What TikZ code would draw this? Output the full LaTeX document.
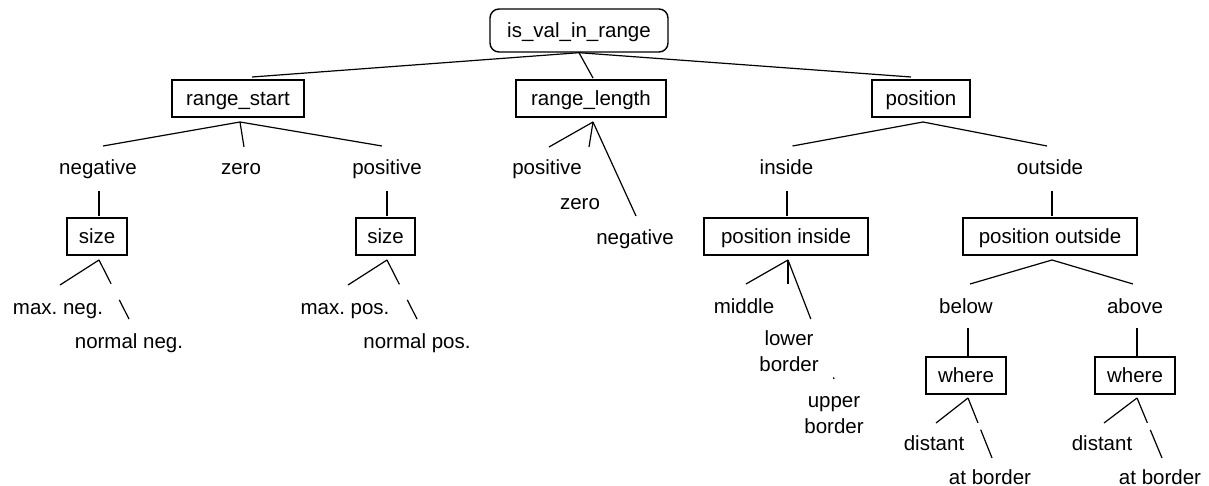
\documentclass[tikz,border=0pt]{standalone}
\usepackage{fontspec}
\setmainfont{Liberation Sans}
\frenchspacing
% point of a node, moved by (dx,dy) in picture units
\newcommand{\offs}[3]{([shift={(#2,#3)}]#1.center)}
\begin{document}
\begin{tikzpicture}[
  x=1pt, y=-1pt,
  every node/.style={font=\fontsize{20.5}{26}\selectfont\frenchspacing, inner sep=0pt},
  lbl/.style={text height=16pt, text depth=2pt},
  twoline/.style={align=center},
  box/.style={lbl, draw, rectangle, line width=1.4pt, minimum height=37pt},
  rootbox/.style={lbl, draw, rectangle, rounded corners=9pt, line width=1.4pt,
                  minimum width=178pt, minimum height=43pt},
  link/.style={line width=1.2pt},
  gapped/.style 2 args={link, dash pattern=on #1 off #2 on 300pt off 1pt},
]
\fill[white] (0,0) rectangle (1209,486);
\useasboundingbox (0,0) rectangle (1209,486);

% ---- nodes ----
\node[rootbox] (root) at (579,30.5) {is\_val\_in\_range};

\node[box, minimum width=132pt] (rs)  at (238,98.5) {range\_start};
\node[box, minimum width=150pt] (rl)  at (591,98.5) {range\_length};
\node[box, minimum width=98pt]  (pos) at (921,98.5) {position};

\node[lbl] (neg1)  at (98,168)  {negative};
\node[lbl] (zero1) at (241,168) {zero};
\node[lbl] (posv1) at (387,168) {positive};

\node[box, minimum width=60pt] (size1) at (97,236.5)  {size};
\node[box, minimum width=59pt] (size2) at (385.5,236.5) {size};

\node[lbl] (maxneg)  at (58,307)  {max. neg.};
\node[lbl] (normneg) at (129,341) {normal neg.};
\node[lbl] (maxpos)  at (345,307) {max. pos.};
\node[lbl] (normpos) at (417,341) {normal pos.};

\node[lbl] (rlpos)  at (547,168) {positive};
\node[lbl] (rlzero) at (580,203) {zero};
\node[lbl] (rlneg)  at (635,237) {negative};

\node[lbl] (inside)  at (786.5,168) {inside};
\node[lbl] (outside) at (1050,168)  {outside};

\node[box, minimum width=164pt] (pin)  at (786,236.5)  {position inside};
\node[box, minimum width=174pt] (pout) at (1050,236.5) {position outside};

\node[lbl] (middle) at (744,306) {middle};
\node[twoline] (lowerb) at (789,353) {\strut lower\\\strut border};
\node[twoline] (upperb) at (834,415) {\strut upper\\\strut border};

\node[lbl] (below) at (966,306)  {below};
\node[lbl] (above) at (1135,306) {above};

\node[box, minimum width=80pt] (where1) at (966,375.5)  {where};
\node[box, minimum width=80pt] (where2) at (1135,375.5) {where};

\node[lbl] (distant1) at (934,443)  {distant};
\node[lbl] (atb1)     at (990,477)  {at border};
\node[lbl] (distant2) at (1102,443) {distant};
\node[lbl] (atb2)     at (1160,477) {at border};

% ---- connectors ----
% root
\draw[link] (root.south) -- \offs{rs}{14}{-21.5};
\draw[link] (root.south) -- \offs{rl}{2}{-20.5};
\draw[link] (root.south) -- \offs{pos}{-10}{-21.5};

% range_start
\draw[link] \offs{rs}{2}{23.5} -- \offs{neg1}{5}{-22};
\draw[link] \offs{rs}{2}{23.5} -- \offs{zero1}{3}{-21};
\draw[link] \offs{rs}{2}{23.5} -- \offs{posv1}{-5}{-22};
\draw[link] \offs{neg1}{1}{23} -- \offs{size1}{2}{-20.5};
\draw[link] \offs{posv1}{0}{23} -- \offs{size2}{1.5}{-20.5};

% size (negative)
\draw[link] \offs{size1}{2}{23.5} -- \offs{maxneg}{2}{-22};
\draw[gapped={26.8pt}{17.9pt}] \offs{size1}{2}{23.5} -- \offs{normneg}{0}{-22};
% size (positive)
\draw[link] \offs{size2}{1.5}{23.5} -- \offs{maxpos}{3}{-22};
\draw[gapped={27.3pt}{17.4pt}] \offs{size2}{1.5}{23.5} -- \offs{normpos}{0}{-22};

% range_length
\draw[link] \offs{rl}{2}{23.5} -- \offs{rlpos}{2}{-21};
\draw[link] \offs{rl}{2}{23.5} -- \offs{rlzero}{9}{-56};
\draw[link] \offs{rl}{2}{23.5} -- \offs{rlneg}{1}{-21};

% position
\draw[link] \offs{pos}{2}{23.5} -- \offs{inside}{6}{-22};
\draw[link] \offs{pos}{2}{23.5} -- \offs{outside}{-3}{-22};
\draw[link] \offs{inside}{0.5}{23} -- \offs{pin}{1}{-20.5};
\draw[link] \offs{outside}{2}{23} -- \offs{pout}{2}{-20.5};

% position inside
\draw[link] \offs{pin}{2}{23.5} -- \offs{middle}{2}{-22};
\draw[link] \offs{pin}{2}{23.5} -- \offs{lowerb}{-1}{-69};
\draw[gapped={63.3pt}{62.6pt}] \offs{pin}{2}{23.5} -- \offs{upperb}{0}{-36};

% position outside
\draw[link] \offs{pout}{2}{23.5} -- \offs{below}{4}{-22};
\draw[link] \offs{pout}{2}{23.5} -- \offs{above}{-2}{-22};
\draw[link] \offs{below}{2}{22} -- \offs{where1}{2}{-18.5};
\draw[link] \offs{above}{2}{22} -- \offs{where2}{2}{-18.5};

% where (below)
\draw[link] \offs{where1}{2}{22.5} -- \offs{distant1}{2}{-20};
\draw[gapped={26.9pt}{7.3pt}] \offs{where1}{2}{22.5} -- \offs{atb1}{2}{-19};
% where (above)
\draw[link] \offs{where2}{2}{22.5} -- \offs{distant2}{2}{-20};
\draw[gapped={26.9pt}{7.6pt}] \offs{where2}{2}{22.5} -- \offs{atb2}{2}{-19};
\end{tikzpicture}
\end{document}
